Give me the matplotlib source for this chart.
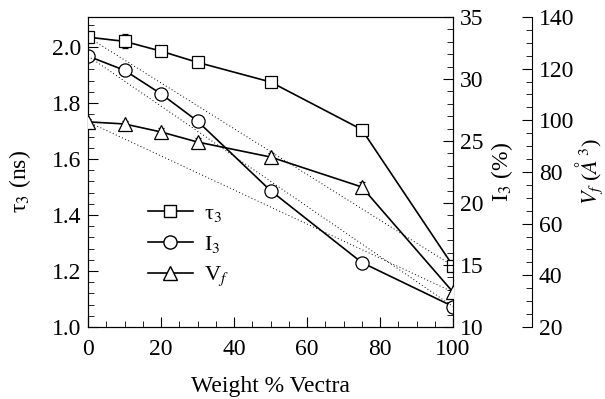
import numpy as np
import matplotlib.pyplot as plt
from matplotlib.ticker import MultipleLocator

plt.rcParams['font.family'] = ['Liberation Serif', 'DejaVu Serif']
plt.rcParams['mathtext.fontset'] = 'stix'

# === data ===
weight = [0, 10, 20, 30, 50, 75, 100]
tau3 = [2.035, 2.02, 1.985, 1.945, 1.875, 1.705, 1.218]
tau3_err = [0.012, 0.025, 0.012, 0.008, 0.012, 0.018, 0.012]
I3 = [31.85, 30.7, 28.8, 26.6, 21.0, 15.2, 11.65]
Vf = [99.4, 98.6, 95.5, 91.6, 85.8, 74.2, 33.5]
Vf_err = [1.2, 1.2, 1.5, 1.5, 1.5, 1.8, 1.2]

fig = plt.figure(figsize=(6.05, 3.99), dpi=100)
ax = fig.add_axes([0.1455, 0.1805, 0.6033, 0.7769])
ax2 = ax.twinx()
ax3 = ax.twinx()
ax3.spines['right'].set_position(('axes', 1.216))

mk = dict(color='black', lw=1.2, mfc='white', mec='black', mew=0.9,
          capsize=2, elinewidth=0.8, capthick=0.8)
ax.errorbar(weight, tau3, yerr=tau3_err, marker='s', ms=8, **mk)
ax2.plot(weight, I3, marker='o', ms=9.5, color='black', lw=1.2, mfc='white', mec='black', mew=0.9)
ax3.errorbar(weight, Vf, yerr=Vf_err, marker='^', ms=9.5, **mk)

# dotted additivity lines between the pure components
dot = dict(color='black', lw=0.7, ls=(0, (1, 2.5)))
ax.plot([weight[0], weight[-1]], [tau3[0], tau3[-1]], **dot)
ax2.plot([weight[0], weight[-1]], [I3[0], I3[-1]], **dot)
ax3.plot([weight[0], weight[-1]], [Vf[0], Vf[-1]], **dot)

ax.set_xlim(0, 100)
ax.set_ylim(1.0, 2.107)
ax2.set_ylim(10, 35)
ax3.set_ylim(20, 140)

ax.xaxis.set_major_locator(MultipleLocator(20))
ax.xaxis.set_minor_locator(MultipleLocator(5))
ax.yaxis.set_major_locator(MultipleLocator(0.2))
ax.yaxis.set_minor_locator(MultipleLocator(0.04))
ax.yaxis.set_major_formatter(plt.FormatStrFormatter('%.1f'))
ax2.yaxis.set_major_locator(MultipleLocator(5))
ax2.yaxis.set_minor_locator(MultipleLocator(1))
ax3.yaxis.set_major_locator(MultipleLocator(20))
ax3.yaxis.set_minor_locator(MultipleLocator(5))

for a in (ax, ax2, ax3):
    a.tick_params(which='both', direction='in', labelsize=17, pad=5)
    a.tick_params(which='major', length=7)
    a.tick_params(which='minor', length=4)
ax.tick_params(axis='x', pad=9)
ax.tick_params(top=False, which='both')
ax3.spines['top'].set_visible(False)
ax3.spines['left'].set_visible(False)
ax3.spines['bottom'].set_visible(False)

ax.set_xlabel('Weight % Vectra', fontsize=17, labelpad=11)
ax.set_ylabel('τ$_3$ (ns)', fontsize=17)
ax2.set_ylabel('I$_3$ (%)', fontsize=17)
ax3.set_ylabel(r'$V_f$ ($\AA^3$)', fontsize=16)
ax.yaxis.set_label_coords(-0.15, 0.47)
ax2.yaxis.set_label_coords(1.10, 0.5)
ax3.yaxis.set_label_coords(1.33, 0.5)

h1 = plt.Line2D([], [], color='black', lw=1.2, marker='s', ms=8, mfc='white', mec='black')
h2 = plt.Line2D([], [], color='black', lw=1.2, marker='o', ms=9.5, mfc='white', mec='black')
h3 = plt.Line2D([], [], color='black', lw=1.2, marker='^', ms=9.5, mfc='white', mec='black')
ax.legend([h1, h2, h3], ['τ$_3$', 'I$_3$', 'V$_f$'], loc='lower left',
          bbox_to_anchor=(0.11, 0.06), frameon=False, fontsize=16,
          handlelength=2.0, handletextpad=0.5, labelspacing=0.45)

fig.savefig('out.png', dpi=100)
